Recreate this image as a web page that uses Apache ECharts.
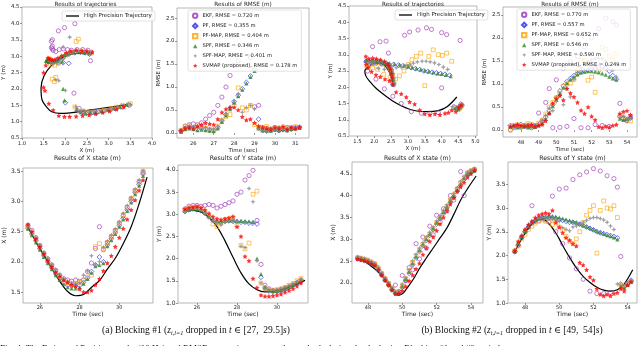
<!DOCTYPE html>
<html>
<head>
<meta charset="utf-8">
<script src="https://cdn.jsdelivr.net/npm/echarts@6.0.0/dist/echarts.min.js"></script>
<style>
  html, body { margin: 0; padding: 0; background: #fff; }
  #main { width: 640px; height: 346px; }
</style>
</head>
<body>
<div id="main"></div>
<script>
// ---------- Blocking #1 ----------
var T1 = [25.4,25.6,25.8,26.0,26.2,26.4,26.6,26.8,27.0,27.2,27.4,27.6,27.8,28.0,28.2,28.4,28.6,28.8,29.0,29.2,29.4,29.6,29.8,30.0,30.2,30.4,30.6,30.8,31.0,31.2];
var TT1 = [25.4,25.8,26.2,26.6,27.0,27.4,27.8,28.2,28.6,29.0,29.4,29.8,30.2,30.6,31.0,31.4];
var TRUE_X1 = [2.57,2.33,2.11,1.89,1.68,1.51,1.44,1.46,1.58,1.69,1.88,2.06,2.30,2.58,2.96,3.40];
var TRUE_Y1 = [3.10,3.09,3.05,2.93,2.72,2.40,2.03,1.68,1.43,1.30,1.25,1.26,1.30,1.36,1.43,1.51];

var EKF_X1 = [2.60,2.52,2.40,2.27,2.14,2.05,1.95,1.86,1.78,1.72,1.70,1.68,1.70,1.68,1.70,1.84,1.98,2.22,2.58,2.20,2.32,2.42,2.52,2.64,2.76,2.90,3.04,3.18,3.32,3.48];
var EKF_Y1 = [3.12,3.18,3.20,3.20,3.18,3.20,3.22,3.20,3.14,3.18,3.22,3.26,3.30,3.45,3.50,3.77,3.87,3.99,2.86,1.87,1.40,1.32,1.28,1.28,1.30,1.33,1.36,1.40,1.45,1.50];
var PF_X1 = [2.56,2.46,2.35,2.22,2.10,2.00,1.90,1.80,1.73,1.66,1.62,1.60,1.60,1.61,1.66,1.73,1.84,1.95,2.08,2.00,2.28,2.38,2.48,2.60,2.72,2.86,3.00,3.14,3.28,3.45];
var PF_Y1 = [3.06,3.10,3.12,3.10,3.08,3.02,2.95,2.86,2.82,2.82,2.84,2.85,2.84,2.83,2.82,2.82,2.80,2.80,2.78,1.58,1.34,1.27,1.25,1.26,1.27,1.31,1.35,1.40,1.45,1.52];
var PFMAP_X1 = [2.58,2.47,2.36,2.24,2.13,2.03,1.93,1.84,1.76,1.70,1.66,1.64,1.63,1.66,1.70,1.75,1.78,2.25,2.30,2.22,2.32,2.42,2.52,2.64,2.78,2.90,3.05,3.18,3.32,3.50];
var PFMAP_Y1 = [3.10,3.14,3.16,3.15,3.12,3.05,2.95,2.78,2.72,2.80,2.88,2.90,2.92,2.75,2.30,2.22,2.35,3.45,3.52,1.45,1.32,1.30,1.28,1.30,1.32,1.35,1.40,1.44,1.50,1.55];
var SPF_X1 = [2.55,2.44,2.32,2.20,2.08,1.98,1.88,1.78,1.70,1.63,1.58,1.56,1.56,1.58,1.64,1.72,1.82,1.93,1.95,1.98,2.26,2.36,2.46,2.58,2.70,2.84,2.98,3.12,3.26,3.42];
var SPF_Y1 = [3.08,3.10,3.12,3.12,3.10,3.04,2.96,2.88,2.85,2.84,2.85,2.86,2.86,2.85,2.85,2.84,2.84,2.83,2.00,1.65,1.36,1.29,1.27,1.28,1.29,1.33,1.37,1.41,1.46,1.52];
var SPFMAP_X1 = [2.60,2.50,2.40,2.28,2.16,2.06,1.96,1.87,1.79,1.72,1.68,1.65,1.64,1.66,1.78,1.85,2.10,1.95,2.00,2.24,2.34,2.44,2.54,2.66,2.80,2.93,3.06,3.20,3.35,3.50];
var SPFMAP_Y1 = [3.08,3.12,3.14,3.15,3.10,3.02,2.92,2.85,2.80,2.76,2.82,2.86,2.88,2.85,2.28,2.25,3.58,3.28,1.95,1.45,1.32,1.30,1.30,1.30,1.33,1.36,1.40,1.44,1.48,1.52];
var SVMAP_X1 = [2.62,2.50,2.38,2.25,2.13,2.02,1.92,1.83,1.76,1.70,1.66,1.62,1.60,1.55,1.50,1.50,1.53,1.62,1.72,1.85,1.98,2.10,2.25,2.40,2.55,2.70,2.86,3.02,3.18,3.35];
var SVMAP_Y1 = [3.12,3.15,3.16,3.18,3.15,3.10,3.02,2.95,2.90,2.88,2.90,2.92,2.95,2.72,2.50,2.05,1.95,1.55,1.35,1.18,1.15,1.15,1.16,1.18,1.20,1.24,1.28,1.32,1.38,1.45];

var EKF_R1 = [0.05,0.15,0.18,0.20,0.18,0.22,0.30,0.38,0.45,0.60,0.78,1.00,1.25,1.48,1.57,null,null,1.64,0.57,0.60,0.12,0.10,0.08,0.12,0.10,0.09,0.12,0.10,0.11,0.12];
var PF_R1 = [0.04,0.10,0.12,0.10,0.08,0.10,0.08,0.06,0.06,0.12,0.26,0.40,0.54,0.68,0.82,0.96,1.10,1.24,1.38,0.30,0.05,0.04,0.06,0.08,0.05,0.07,0.06,0.08,0.10,0.12];
var PFMAP_R1 = [0.06,0.14,0.16,0.12,0.15,0.12,0.10,0.08,0.06,0.15,0.28,0.36,0.40,0.60,0.98,0.55,0.50,0.60,0.18,0.12,0.10,0.14,0.08,0.12,0.10,0.13,0.09,0.12,0.14,0.12];
var SPF_R1 = [0.03,0.08,0.10,0.08,0.06,0.07,0.06,0.05,0.04,0.10,0.24,0.38,0.52,0.66,0.80,0.94,1.08,1.22,1.35,0.10,0.06,0.05,0.05,0.07,0.06,0.08,0.06,0.09,0.10,0.11];
var SPFMAP_R1 = [0.05,0.12,0.15,0.14,0.12,0.10,0.12,0.09,0.08,0.14,0.28,0.42,0.56,0.70,0.85,0.45,0.55,0.60,0.52,0.10,0.09,0.08,0.10,0.09,0.12,0.08,0.10,0.11,0.09,0.12];
var SVMAP_R1 = [0.05,0.10,0.12,0.10,0.15,0.18,0.22,0.20,0.18,0.30,0.45,0.52,0.55,0.56,0.50,0.35,0.28,0.30,0.22,0.15,0.12,0.10,0.08,0.12,0.10,0.14,0.08,0.12,0.10,0.13];

// ---------- Blocking #2 ----------
var T2 = [47.4,47.6,47.8,48.0,48.2,48.4,48.6,48.8,49.0,49.2,49.4,49.6,49.8,50.0,50.2,50.4,50.6,50.8,51.0,51.2,51.4,51.6,51.8,52.0,52.2,52.4,52.6,52.8,53.0,53.2,53.4,53.6,53.8,54.0,54.2];
var TT2 = [47.35,47.8,48.2,48.6,49.0,49.4,49.75,50.0,50.2,50.6,51.0,51.4,51.8,52.2,52.6,53.0,53.4,53.8,54.3];
var TRUE_X2 = [2.57,2.50,2.38,2.25,2.08,1.88,1.72,1.75,1.84,2.06,2.33,2.57,2.80,3.03,3.26,3.57,3.90,4.16,4.45];
var TRUE_Y2 = [2.05,2.35,2.58,2.72,2.77,2.67,2.50,2.35,2.21,1.96,1.74,1.56,1.43,1.33,1.27,1.25,1.28,1.40,1.70];

var EKF_X2 = [2.57,2.55,2.53,2.50,2.46,2.42,2.32,2.20,2.08,1.97,1.86,1.95,1.80,2.17,2.05,2.35,2.30,2.90,2.55,3.05,2.80,3.30,3.10,3.55,3.40,3.70,3.65,4.00,3.90,4.15,4.55,4.00,4.50,4.56,4.60];
var EKF_Y2 = [2.08,2.22,2.38,2.50,2.60,3.05,2.72,2.74,2.78,2.75,2.70,3.25,2.50,3.40,2.25,3.42,1.95,3.60,1.72,3.70,1.50,3.76,1.25,3.83,1.20,3.78,1.20,3.68,1.22,3.62,3.44,1.98,1.35,1.40,1.45];
var PF_X2 = [2.55,2.53,2.51,2.48,2.44,2.40,2.30,2.18,2.06,1.95,1.84,1.76,1.76,1.90,2.06,2.22,2.42,2.57,2.72,2.85,2.97,3.09,3.22,3.35,3.47,3.59,3.72,3.85,3.97,4.10,4.24,4.37,4.47,4.53,4.57];
var PF_Y2 = [2.08,2.22,2.38,2.50,2.60,2.68,2.74,2.78,2.80,2.80,2.80,2.80,2.78,2.76,2.74,2.72,2.70,2.70,2.68,2.66,2.63,2.60,2.57,2.54,2.50,2.48,2.46,2.44,2.42,2.40,2.37,1.40,1.35,1.40,1.48];
var PFMAP_X2 = [2.58,2.56,2.54,2.52,2.48,2.44,2.34,2.22,2.10,1.99,1.88,1.79,1.80,1.95,2.10,2.28,2.47,2.63,2.75,2.88,3.02,3.12,3.25,3.38,3.50,3.62,3.75,3.90,4.02,4.15,4.30,4.42,4.52,4.57,4.60];
var PFMAP_Y2 = [2.10,2.20,2.35,2.45,2.55,2.62,2.68,2.72,2.75,2.72,2.72,2.65,2.70,2.60,2.55,2.40,2.30,2.25,2.35,2.50,2.70,2.85,2.95,3.05,2.05,2.95,3.15,3.00,2.98,3.05,2.80,1.38,1.35,1.40,1.45];
var SPF_X2 = [2.57,2.55,2.53,2.50,2.46,2.42,2.32,2.20,2.08,1.97,1.86,1.77,1.78,1.92,2.08,2.25,2.45,2.60,2.75,2.88,3.00,3.12,3.25,3.38,3.50,3.62,3.75,3.88,4.00,4.13,4.27,4.40,4.50,4.55,4.58];
var SPF_Y2 = [2.10,2.25,2.40,2.52,2.62,2.70,2.75,2.78,2.80,2.82,2.83,2.83,2.82,2.80,2.78,2.76,2.74,2.72,2.70,2.67,2.64,2.61,2.58,2.55,2.52,2.49,2.46,2.43,2.41,2.38,2.34,1.35,1.32,1.38,1.45];
var SPFMAP_X2 = [2.60,2.58,2.56,2.53,2.49,2.45,2.36,2.24,2.12,2.01,1.90,1.80,1.82,1.97,2.12,2.30,2.50,2.65,2.80,2.92,3.05,3.16,3.28,3.42,3.54,3.66,3.79,3.92,4.05,4.18,4.32,4.44,4.54,4.58,4.62];
var SPFMAP_Y2 = [2.12,2.28,2.42,2.55,2.65,2.72,2.76,2.78,2.80,2.80,2.78,2.76,2.75,2.72,2.58,2.55,2.52,2.60,2.62,2.66,2.70,2.74,2.78,2.80,2.80,2.78,2.75,2.70,2.62,2.55,1.40,1.38,1.36,1.40,1.45];
var SVMAP_X2 = [2.55,2.53,2.51,2.48,2.44,2.40,2.30,2.18,2.06,1.95,1.84,1.75,1.76,1.82,1.92,2.05,2.18,2.32,2.45,2.65,2.80,2.95,3.05,3.20,3.35,3.50,3.65,3.80,3.95,4.10,4.20,4.30,4.42,4.50,4.58];
var SVMAP_Y2 = [2.10,2.30,2.42,2.55,2.65,2.72,2.80,2.85,2.88,2.90,2.88,2.95,2.70,2.60,2.48,2.38,2.32,2.25,2.20,1.85,1.80,1.70,1.55,1.48,1.30,1.18,1.15,1.18,1.15,1.20,1.22,1.30,1.25,1.38,1.45];

var EKF_R2 = [0.00,0.05,0.08,0.06,0.10,0.08,0.05,0.10,0.37,0.20,0.60,0.90,0.05,1.09,0.06,1.34,0.08,1.49,0.25,1.60,0.05,1.80,0.05,2.00,0.12,2.20,0.10,2.43,0.08,2.35,2.28,0.58,0.25,0.20,0.30];
var PF_R2 = [0.10,0.08,0.10,0.12,0.08,0.10,0.09,0.08,0.12,0.18,0.28,0.42,0.55,0.70,0.85,0.96,1.05,1.12,1.18,1.22,1.26,1.28,1.30,1.32,1.34,1.36,1.38,1.35,1.28,1.18,1.10,0.30,0.25,0.22,0.26];
var PFMAP_R2 = [0.02,0.10,0.12,0.08,0.10,0.14,0.12,0.10,0.15,0.22,0.35,0.50,0.60,0.70,0.80,0.95,1.00,1.02,1.10,1.25,1.52,1.50,1.08,1.15,0.82,1.30,1.80,1.75,1.60,1.52,1.65,0.30,0.28,0.22,0.20];
var SPF_R2 = [0.08,0.10,0.06,0.08,0.10,0.06,0.08,0.07,0.10,0.15,0.25,0.38,0.52,0.66,0.80,0.92,1.02,1.10,1.16,1.21,1.25,1.27,1.28,1.28,1.27,1.25,1.23,1.20,1.16,1.12,1.10,0.25,0.22,0.24,0.28];
var SPFMAP_R2 = [0.06,0.08,0.10,0.07,0.09,0.12,0.10,0.08,0.12,0.20,0.32,0.48,0.42,0.62,0.75,0.55,0.90,0.72,1.10,1.25,1.35,1.42,1.48,1.52,1.55,1.56,1.55,1.50,1.42,1.30,1.15,0.28,0.30,0.25,0.27];
var SVMAP_R2 = [0.08,0.10,0.12,0.10,0.08,0.10,0.12,0.08,0.10,0.12,0.20,0.36,0.58,0.69,0.75,0.65,0.90,0.80,0.72,0.60,0.43,0.36,0.50,0.30,0.22,0.07,0.05,0.08,0.06,0.10,0.12,0.36,0.40,0.42,0.33];

var NAMES1 = ['EKF, RMSE = 0.720 m', 'PF, RMSE = 0.355 m', 'PF-MAP, RMSE = 0.404 m', 'SPF, RMSE = 0.346 m', 'SPF-MAP, RMSE = 0.401 m', 'SVMAP (proposed), RMSE = 0.178 m'];
var NAMES2 = ['EKF, RMSE = 0.770 m', 'PF, RMSE = 0.557 m', 'PF-MAP, RMSE = 0.652 m', 'SPF, RMSE = 0.546 m', 'SPF-MAP, RMSE = 0.590 m', 'SVMAP (proposed), RMSE = 0.249 m'];

// tick labels per panel: traj1, rmse1, traj2, rmse2, x1, y1, x2, y2
var X_TICKS = [
  [1.0,1.5,2.0,2.5,3.0,3.5,4.0], [26,27,28,29,30,31],
  [1.5,2.0,2.5,3.0,3.5,4.0,4.5,5.0], [48,49,50,51,52,53,54],
  [26,28,30], [26,28,30], [48,50,52,54], [48,50,52,54]
];
var Y_TICKS = [
  [0.5,1.0,1.5,2.0,2.5,3.0,3.5,4.0,4.5], [0.0,0.5,1.0,1.5,2.0,2.5],
  [0.5,1.0,1.5,2.0,2.5,3.0,3.5,4.0,4.5], [0.0,0.5,1.0,1.5,2.0,2.5],
  [1.5,2.0,2.5,3.0,3.5], [1.0,1.5,2.0,2.5,3.0,3.5,4.0],
  [2.0,2.5,3.0,3.5,4.0,4.5], [1.0,1.5,2.0,2.5,3.0,3.5]
];

// ---------- layout / style ----------
var FONT = 'DejaVu Sans';
var GRIDS = [
  {left: 19,  top: 7,   width: 133, height: 131},
  {left: 177, top: 8,   width: 132, height: 130},
  {left: 349, top: 6,   width: 128, height: 130},
  {left: 503, top: 7,   width: 134, height: 130},
  {left: 22,  top: 168, width: 131, height: 135},
  {left: 178, top: 165, width: 130, height: 138},
  {left: 352, top: 162, width: 131, height: 141},
  {left: 508, top: 162, width: 129, height: 141}
];
var X_RANGE = [[1,4],[25.2,31.67],[1.25,5.05],[46.98,54.57],[25.15,31.7],[25.05,31.55],[47.07,54.7],[47.0,54.55]];
var Y_RANGE = [[0.5,4.5],[-0.11,2.72],[0.5,4.5],[-0.15,2.67],[1.32,3.55],[1.0,4.11],[1.54,4.77],[1.0,3.97]];
var X_NAMES = ['X (m)','Time (sec)','X (m)','Time (sec)','Time (sec)','Time (sec)','Time (sec)','Time (sec)'];
var Y_NAMES = ['Y (m)','RMSE (m)','Y (m)','RMSE (m)','X (m)','Y (m)','X (m)','Y (m)'];
var Y_GAP = [13, 11, 9, 11, 16, 11, 14, 15];
var TITLES = ['Results of trajectories','Results of RMSE (m)','Results of trajectories','Results of RMSE (m)',
  'Results of X state (m)','Results of Y state (m)','Results of X state (m)','Results of Y state (m)'];

var STAR4 = 'path://M0,-10L3,-3L10,0L3,3L0,10L-3,3L-10,0L-3,-3Z';
var STAR5 = 'path://M0,-10L2.9,-4L9.5,-3.1L4.7,1.5L5.9,8.1L0,5L-5.9,8.1L-4.7,1.5L-9.5,-3.1L-2.9,-4Z';
var MARKS = [
  {color: '#9a33b5', symbol: 'circle',   size: 4.2, hollow: true},
  {color: '#2424ee', symbol: 'diamond',  size: 4.8, hollow: true},
  {color: '#ffa200', symbol: 'rect',     size: 3.8, hollow: true},
  {color: '#2a8a2a', symbol: 'triangle', size: 4.2, hollow: false},
  {color: '#8a8a8a', symbol: STAR4,      size: 5.2, hollow: false},
  {color: '#ff0000', symbol: STAR5,      size: 5,   hollow: false}
];

var SCEN = [
  {T: T1, TT: TT1, TX: TRUE_X1, TY: TRUE_Y1, names: NAMES1,
   X: [EKF_X1, PF_X1, PFMAP_X1, SPF_X1, SPFMAP_X1, SVMAP_X1],
   Y: [EKF_Y1, PF_Y1, PFMAP_Y1, SPF_Y1, SPFMAP_Y1, SVMAP_Y1],
   R: [EKF_R1, PF_R1, PFMAP_R1, SPF_R1, SPFMAP_R1, SVMAP_R1]},
  {T: T2, TT: TT2, TX: TRUE_X2, TY: TRUE_Y2, names: NAMES2,
   X: [EKF_X2, PF_X2, PFMAP_X2, SPF_X2, SPFMAP_X2, SVMAP_X2],
   Y: [EKF_Y2, PF_Y2, PFMAP_Y2, SPF_Y2, SPFMAP_Y2, SVMAP_Y2],
   R: [EKF_R2, PF_R2, PFMAP_R2, SPF_R2, SPFMAP_R2, SVMAP_R2]}
];

function pairs(a, b) {
  var out = [];
  for (var i = 0; i < a.length; i++) {
    if (a[i] != null && b[i] != null) out.push([a[i], b[i]]);
  }
  return out;
}
function fmt1(v) { return v.toFixed(1); }
function fmt0(v) { return String(Math.round(v)); }

var grid = [], xAxis = [], yAxis = [], series = [], graphic = [];
GRIDS.forEach(function (g, i) {
  var bottomRow = i >= 4;
  var timeX = (i % 2 === 1) || bottomRow;
  grid.push({left: g.left, top: g.top, width: g.width, height: g.height,
    show: true, borderColor: '#9a9a9a', borderWidth: 0.7, backgroundColor: 'transparent'});
  xAxis.push({
    type: 'value', gridIndex: i, min: X_RANGE[i][0], max: X_RANGE[i][1],
    name: X_NAMES[i], nameLocation: 'middle', nameGap: bottomRow ? 8 : 10,
    nameTextStyle: {fontFamily: FONT, fontSize: bottomRow ? 6 : 5.5, color: '#222'},
    axisLine: {show: false}, splitLine: {show: false},
    axisTick: {show: true, length: 2, lineStyle: {color: '#555', width: 0.6}, customValues: X_TICKS[i]},
    axisLabel: {fontFamily: FONT, fontSize: bottomRow ? 5 : 5.2, color: '#222', margin: bottomRow ? 2 : 3,
      customValues: X_TICKS[i], formatter: timeX ? fmt0 : fmt1}
  });
  yAxis.push({
    type: 'value', gridIndex: i, min: Y_RANGE[i][0], max: Y_RANGE[i][1],
    name: Y_NAMES[i], nameLocation: 'middle', nameGap: Y_GAP[i],
    nameTextStyle: {fontFamily: FONT, fontSize: bottomRow ? 6 : 5.5, color: '#222'},
    axisLine: {show: false}, splitLine: {show: false},
    axisTick: {show: true, length: 2, lineStyle: {color: '#555', width: 0.6}, customValues: Y_TICKS[i]},
    axisLabel: {fontFamily: FONT, fontSize: bottomRow ? 6 : 5.4, color: '#222', margin: 2.5,
      customValues: Y_TICKS[i], formatter: fmt1}
  });
  graphic.push({type: 'text', x: g.left + g.width / 2, y: bottomRow ? 158 : 4.5, silent: true,
    style: {text: TITLES[i], fill: '#222', font: (bottomRow ? '6.2px ' : '5.7px ') + FONT,
      align: 'center', verticalAlign: 'middle', textAlign: 'center', textVerticalAlign: 'middle'}});
});

function truthLine(name, gi, data) {
  return {type: 'line', name: name, xAxisIndex: gi, yAxisIndex: gi, data: data, z: 1,
    showSymbol: false, smooth: 0.35, silent: true,
    lineStyle: {color: '#000', width: 1.2}, itemStyle: {color: '#000'}};
}
function scatter(name, k, gi, data) {
  var m = MARKS[k];
  return {type: 'scatter', name: name, xAxisIndex: gi, yAxisIndex: gi, data: data, z: 2,
    symbol: m.symbol, symbolSize: m.size, silent: true,
    itemStyle: m.hollow
      ? {color: 'rgba(0,0,0,0)', borderColor: m.color, borderWidth: 0.8}
      : {color: m.color, borderWidth: 0}};
}

SCEN.forEach(function (s, n) {
  var gTraj = n * 2, gRmse = n * 2 + 1, gX = 4 + n * 2, gY = 5 + n * 2;
  series.push(truthLine('High Precision Trajectory', gTraj, pairs(s.TX, s.TY)));
  series.push(truthLine('truth x' + n, gX, pairs(s.TT, s.TX)));
  series.push(truthLine('truth y' + n, gY, pairs(s.TT, s.TY)));
  for (var k = 0; k < 6; k++) {
    series.push(scatter('traj' + n + '_' + k, k, gTraj, pairs(s.X[k], s.Y[k])));
    series.push(scatter(s.names[k], k, gRmse, pairs(s.T, s.R[k])));
    series.push(scatter('x' + n + '_' + k, k, gX, pairs(s.T, s.X[k])));
    series.push(scatter('y' + n + '_' + k, k, gY, pairs(s.T, s.Y[k])));
  }
});

var legendBase = {
  orient: 'vertical', backgroundColor: 'rgba(255,255,255,0.8)', borderColor: '#cfcfcf',
  borderWidth: 0.6, borderRadius: 2, selectedMode: false,
  textStyle: {fontFamily: FONT, fontSize: 5.2, color: '#222', lineHeight: 6}
};
var legend = [
  Object.assign({}, legendBase, {data: NAMES1, left: 188, top: 10, padding: [2.5, 4, 2.5, 4],
    itemWidth: 4.4, itemHeight: 4.4, itemGap: 3.8}),
  Object.assign({}, legendBase, {data: NAMES2, left: 517, top: 9, padding: [2.5, 4, 2.5, 4],
    itemWidth: 4.4, itemHeight: 4.4, itemGap: 3.8}),
  Object.assign({}, legendBase, {data: [{name: 'High Precision Trajectory', icon: 'rect'}], left: 62, top: 11,
    padding: [2, 3, 2, 4], itemWidth: 13, itemHeight: 1.3, textStyle: {fontFamily: FONT, fontSize: 5.5, color: '#222'}}),
  Object.assign({}, legendBase, {data: [{name: 'High Precision Trajectory', icon: 'rect'}], left: 395, top: 10,
    padding: [2, 3, 2, 4], itemWidth: 13, itemHeight: 1.3, textStyle: {fontFamily: FONT, fontSize: 5.5, color: '#222'}})
];

var SERIF = '"Liberation Serif", "DejaVu Serif", serif';
var capRich = {
  i: {fontFamily: SERIF, fontSize: 9.5, fontStyle: 'italic', lineHeight: 12, fill: '#111'},
  s: {fontFamily: SERIF, fontSize: 6.3, fontStyle: 'italic', lineHeight: 6, verticalAlign: 'bottom', fill: '#111'},
  n: {fontFamily: SERIF, fontSize: 9.5, lineHeight: 12, fill: '#111'}
};
graphic.push({type: 'text', x: 196, y: 330, silent: true, style: {
  text: '{n|(a) Blocking #1 (}{i|z}{s|t,l=1}{n| dropped in }{i|t}{n| ∈ [27,  29.5]}{i|s}{n|)}',
  rich: capRich, align: 'center', verticalAlign: 'middle', textAlign: 'center', textVerticalAlign: 'middle',
  font: '9.5px ' + SERIF, fill: '#111'}});
graphic.push({type: 'text', x: 512, y: 330, silent: true, style: {
  text: '{n|(b) Blocking #2 (}{i|z}{s|t,l=1}{n| dropped in }{i|t}{n| ∈ [49,  54]}{i|s}{n|)}',
  rich: capRich, align: 'center', verticalAlign: 'middle', textAlign: 'center', textVerticalAlign: 'middle',
  font: '9.5px ' + SERIF, fill: '#111'}});
graphic.push({type: 'text', x: 0, y: 349, silent: true, style: {
  text: 'Fig. 4: The Estimated Position results (10 Hz) and RMSE comparison among the methods during the deploying Blocking #1 and #2 periods.',
  font: '9px ' + SERIF, fill: '#111', align: 'left', verticalAlign: 'middle', textAlign: 'left', textVerticalAlign: 'middle'}});

var chart = echarts.init(document.getElementById('main'), null, {renderer: 'canvas'});
chart.setOption({
  animation: false,
  backgroundColor: '#fff',
  grid: grid, xAxis: xAxis, yAxis: yAxis,
  legend: legend,
  series: series,
  graphic: graphic
});
</script>
</body>
</html>
